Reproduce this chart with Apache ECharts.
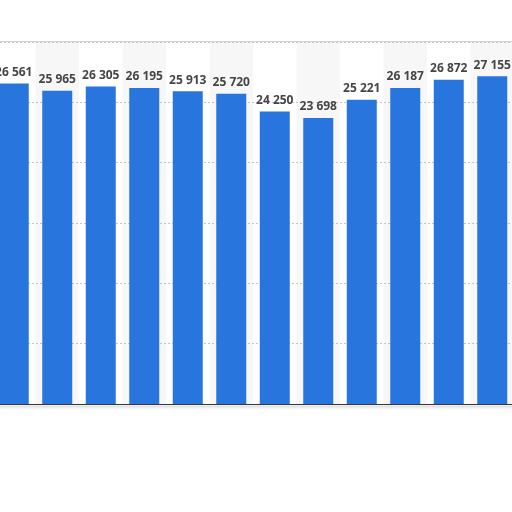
<!DOCTYPE html>
<html>
<head>
<meta charset="utf-8">
<style>html,body{margin:0;padding:0;background:#fff;overflow:hidden;width:512px;height:512px}#c{position:absolute;left:-8px;top:0;width:522px;height:512px}</style>
<script src="https://cdn.jsdelivr.net/npm/echarts@6/dist/echarts.min.js"></script>
</head>
<body>
<div id="c"></div>
<script>
var categories = ['1','2','3','4','5','6','7','8','9','10','11','12'];
var values = [26561, 25965, 26305, 26195, 25913, 25720, 24250, 23698, 25221, 26187, 26872, 27155];
var yTicks = [0, 5000, 10000, 15000, 20000, 25000, 30000];

function fmt(v){ return String(v).replace(/\B(?=(\d{3})+(?!\d))/g, ' '); }

var chart = echarts.init(document.getElementById('c'), null, {renderer:'canvas'});
chart.setOption({
  animation: false,
  backgroundColor: '#ffffff',
  grid: {left: 0, right: 0, top: 42, bottom: 108, show: true, borderColor: '#c6c6c6', borderWidth: 1.5, backgroundColor: 'transparent'},
  xAxis: [{
    type: 'category', data: categories, boundaryGap: true, z: 0,
    axisLine: {show: false}, axisTick: {show: false}, axisLabel: {show: false},
    splitArea: {show: true, areaStyle: {color: ['#ffffff', '#f7f7f7']}}
  }, {
    type: 'category', data: categories, boundaryGap: true, position: 'bottom', z: 3,
    axisLine: {show: true, onZero: false, lineStyle: {color: '#3a3a3a', width: 1, shadowColor: 'rgba(0,0,0,0.35)', shadowBlur: 3, shadowOffsetY: 2}},
    axisTick: {show: false}, axisLabel: {show: false}, splitLine: {show: false}, splitArea: {show: false}
  }],
  yAxis: {
    type: 'value', min: yTicks[0], max: yTicks[yTicks.length-1], interval: yTicks[1]-yTicks[0], z: 1,
    axisLine: {show: false}, axisTick: {show: false}, axisLabel: {show: false},
    splitLine: {show: true, lineStyle: {color: '#c4c4c4', type: [2, 2], width: 1}}
  },
  series: [{
    type: 'bar', data: values, barWidth: 30, z: 2, xAxisIndex: 0,
    itemStyle: {color: '#2876dd'},
    label: {show: true, position: 'top', distance: 5, color: '#454545', fontFamily: 'Open Sans', fontWeight: 'bold', fontSize: 12,
      formatter: function(p){ return fmt(p.value); }}
  }]
});
</script>
</body>
</html>
